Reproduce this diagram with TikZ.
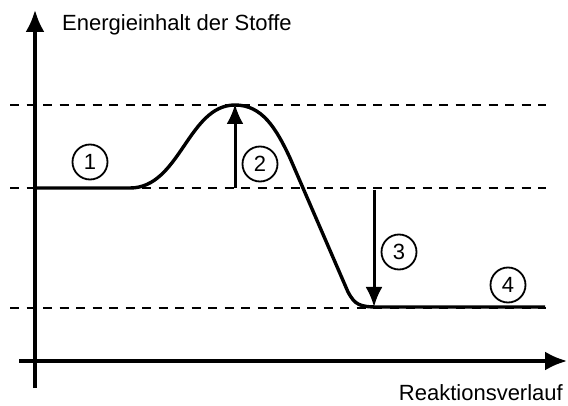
\documentclass[tikz,border=0pt]{standalone}
\usepackage{fontspec}
\setmainfont{Liberation Sans}
\usetikzlibrary{arrows.meta,positioning,calc}
\tikzset{
  axisarr/.style={-{Latex[length=22pt,width=19pt]}, line width=3.2pt},
  levelline/.style={line width=1.9pt, dash pattern=on 9pt off 7.5pt},
  stepnum/.style={draw, circle, line width=1.8pt, minimum size=35pt, inner sep=0pt, font=\fontsize{22}{22}\selectfont},
}

\begin{document}
\begin{tikzpicture}[
  x=1pt, y=-1pt,
  font=\fontsize{22}{24}\selectfont,
  curve/.style={line width=3.4pt, line join=round},
  deltaarr/.style={-{Latex[length=20pt,width=17pt]}, line width=3pt},
]
  \useasboundingbox (0,0) rectangle (568,406);

  % axes
  \coordinate (ybot) at (35,388);
  \coordinate (ytop) at (35,10);
  \coordinate (xleft) at (19,361);
  \coordinate (xright) at (567,361);
  \draw[axisarr] (ybot) -- (ytop);
  \draw[axisarr] (xleft) -- (xright);
  \node[anchor=base west, inner sep=0pt] (ylab) at (62,31) {Energieinhalt der Stoffe};
  \node[anchor=base east, inner sep=0pt] (xlab) at (563,400) {Reaktionsverlauf};

  % energy levels
  \coordinate (hiL) at (10,105);  \coordinate (hiR) at (546,105);
  \coordinate (midL) at (10,188); \coordinate (midR) at (546,188);
  \coordinate (loL) at (10,308);  \coordinate (loR) at (546,308);
  \draw[levelline] (hiL) -- (hiR);
  \draw[levelline] (midL) -- (midR);
  \draw[levelline] (loL) -- (loR);

  % reaction curve
  \draw[curve] (35,188) -- (130,188)
    .. controls (180,188) and (188,105) .. (235,105)
    .. controls (262,105) and (276,128) .. (290,158)
    -- (348,292)
    .. controls (355,305) and (360,307) .. (378,307) -- (545,307);

  % activation and reaction energy
  \coordinate (actbot) at (235,188);
  \coordinate (acttop) at (235,104);
  \coordinate (rtop) at (374,190);
  \coordinate (rbot) at (374,307);
  \draw[deltaarr] (actbot) -- (acttop);
  \draw[deltaarr] (rtop) -- (rbot);

  \node[stepnum] (s1) at (90,162) {1};
  \node[stepnum] (s2) at (260,164) {2};
  \node[stepnum] (s3) at (399,252) {3};
  \node[stepnum] (s4) at (508,285) {4};
\end{tikzpicture}
\end{document}
